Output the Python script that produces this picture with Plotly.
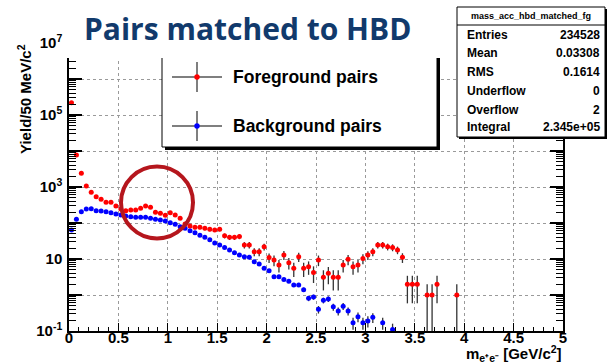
import numpy as np
import plotly.graph_objects as go

# ---------------- data ----------------
fg_mass = [0.025, 0.075, 0.125, 0.175, 0.225, 0.275, 0.325, 0.375, 0.425, 0.475,
           0.525, 0.575, 0.625, 0.675, 0.725, 0.775, 0.825, 0.875, 0.925, 0.975,
           1.025, 1.075, 1.125, 1.175, 1.225, 1.275, 1.325, 1.375, 1.425, 1.475,
           1.525, 1.575, 1.625, 1.675, 1.725, 1.775, 1.825, 1.875, 1.925, 1.975,
           2.025, 2.075, 2.125, 2.175, 2.225, 2.275, 2.325, 2.375, 2.425, 2.475,
           2.525, 2.575, 2.625, 2.675, 2.725, 2.775, 2.825, 2.875, 2.925, 2.975,
           3.025, 3.075, 3.125, 3.175, 3.225, 3.275, 3.325, 3.375,
           3.425, 3.475, 3.525, 3.625, 3.675, 3.725, 3.925]
fg_yield = [220000, 7700, 2400, 1070, 710, 540, 455, 375, 375, 297,
            245, 220, 230, 230, 256, 297, 272, 198, 186, 163,
            193, 167, 135, 94, 83, 76, 76, 71, 67, 64,
            67, 44, 40, 40, 42, 24.5, 24.5, 16, 16, 22,
            11, 9.4, 6.8, 13, 7.9, 5.5, 11.6, 5.5, 6.1, 4.2,
            9.4, 3.1, 4.0, 3.1, 3.1, 6.8, 9.8, 6.1, 6.8, 10.4,
            12.9, 16, 24.5, 24.5, 22, 21, 17.8, 11.1,
            2, 2, 2, 1, 1, 2, 1]

bg_mass = [0.025, 0.075, 0.125, 0.175, 0.225, 0.275, 0.325, 0.375, 0.425, 0.475,
           0.525, 0.575, 0.625, 0.675, 0.725, 0.775, 0.825, 0.875, 0.925, 0.975,
           1.025, 1.075, 1.125, 1.175, 1.225, 1.275, 1.325, 1.375, 1.425, 1.475,
           1.525, 1.575, 1.625, 1.675, 1.725, 1.775, 1.825, 1.875, 1.925, 1.975,
           2.025, 2.075, 2.125, 2.175, 2.225, 2.275, 2.325, 2.375, 2.425, 2.475,
           2.525, 2.575, 2.625, 2.675, 2.725, 2.775, 2.825, 2.875, 2.925, 2.975,
           3.025, 3.075, 3.175, 3.275]
bg_yield = [64, 127, 206, 245, 250, 220, 215, 206, 194, 178,
            167, 156, 150, 144, 144, 144, 135, 127, 121, 114,
            102, 92, 79, 71, 61, 54, 46, 40, 34, 28,
            24.5, 21, 17.8, 15, 12.9, 11.5, 11.1, 8.4, 7.3, 5.5,
            4.7, 3.2, 3.2, 2.7, 2.4, 1.9, 1.9, 1.4, 0.81, 0.88,
            0.40, 0.71, 0.77, 0.47, 0.36, 0.49, 0.36, 0.17, 0.25, 0.17,
            0.19, 0.24, 0.17, 0.11]

x_tickvals = [0, 0.5, 1, 1.5, 2, 2.5, 3, 3.5, 4, 4.5, 5]
x_ticktext = ["0", "0.5", "1", "1.5", "2", "2.5", "3", "3.5", "4", "4.5", "5"]
y_tickvals = [1e-1, 1, 1e1, 1e2, 1e3, 1e4, 1e5, 1e6, 1e7]
y_ticktext = ["10<sup>-1</sup>", "", "10", "", "10<sup>3</sup>", "", "10<sup>5</sup>", "", "10<sup>7</sup>"]

stats_title = "mass_acc_hbd_matched_fg"
stats_labels = ["Entries", "Mean", "RMS", "Underflow", "Overflow", "Integral"]
stats_values = ["234528", "0.03308", "0.1614", "0", "2", "2.345e+05"]
legend_labels = ["Foreground pairs", "Background pairs"]

# ---------------- layout geometry (pixels) ----------------
W, H = 608, 364
L, R, T, B = 69, 563, 43, 331
PW, PH = R - L, B - T


def px(x):
    return (x - L) / PW


def py(y):
    return (B - y) / PH


FONT = "Liberation Sans, Arial, Helvetica, sans-serif"
fg_err = [np.sqrt(v) for v in fg_yield]
bg_err = [0.15 * np.sqrt(v) for v in bg_yield]

fig = go.Figure()
fig.add_trace(go.Scatter(
    x=bg_mass, y=bg_yield, mode="markers",
    marker=dict(color="#0000ff", size=5),
    error_y=dict(type="data", array=bg_err, color="#333333", thickness=1.3, width=0),
    showlegend=False))
fig.add_trace(go.Scatter(
    x=fg_mass, y=fg_yield, mode="markers",
    marker=dict(color="#ff0000", size=5),
    error_y=dict(type="data", array=fg_err, color="#333333", thickness=1.3, width=0),
    showlegend=False, cliponaxis=False))

minor_y = [k * 10.0 ** n for n in range(-1, 7) for k in range(2, 10)]

fig.update_xaxes(
    range=[0, 5], tickvals=x_tickvals, ticktext=x_ticktext,
    ticks="inside", ticklen=8, tickwidth=1.3, tickcolor="black",
    minor=dict(ticks="inside", ticklen=4, dtick=0.1, tickcolor="black", showgrid=False),
    showline=True, linecolor="black", linewidth=1.5, mirror=True,
    showgrid=True, gridcolor="#9a9a9a", griddash="dot", gridwidth=1,
    zeroline=False, automargin=False, ticklabelstandoff=-8,
    tickfont=dict(family=FONT, size=15, color="black", weight="bold"))
fig.update_yaxes(
    type="log", range=[-1, 7], tickvals=y_tickvals, ticktext=y_ticktext,
    ticks="inside", ticklen=13, tickwidth=1.5, tickcolor="black",
    minor=dict(ticks="inside", ticklen=7, tickvals=minor_y, tickcolor="black",
               tickwidth=1.2, showgrid=False),
    showline=True, linecolor="black", linewidth=1.5, mirror="ticks",
    showgrid=True, gridcolor="#9a9a9a", griddash="dot", gridwidth=1,
    zeroline=False, automargin=False, ticklabelstandoff=2,
    tickfont=dict(family=FONT, size=15, color="black", weight="bold"))

shapes = []
ann = []

# highlight circle
shapes.append(dict(type="circle", xref="paper", yref="paper",
                   x0=px(121), x1=px(193), y0=py(238.5), y1=py(166.5),
                   line=dict(color="#b5161d", width=4), layer="above"))

# legend box (shadow + box)
shapes.append(dict(type="rect", xref="paper", yref="paper",
                   x0=px(165), x1=px(440), y0=py(150), y1=py(40),
                   fillcolor="black", line=dict(width=0), layer="above"))
shapes.append(dict(type="rect", xref="paper", yref="paper",
                   x0=px(162), x1=px(437), y0=py(147), y1=py(37),
                   fillcolor="white", line=dict(color="black", width=1), layer="above"))
for i, (lab, col) in enumerate(zip(legend_labels, ["#ff0000", "#0000ff"])):
    yc = 77 + i * 49
    shapes.append(dict(type="line", xref="paper", yref="paper",
                       x0=px(172), x1=px(222), y0=py(yc), y1=py(yc),
                       line=dict(color="#555555", width=1.5), layer="above"))
    shapes.append(dict(type="line", xref="paper", yref="paper",
                       x0=px(197), x1=px(197), y0=py(yc + 15), y1=py(yc - 15),
                       line=dict(color="#555555", width=1.5), layer="above"))
    shapes.append(dict(type="circle", xref="paper", yref="paper",
                       x0=px(194.3), x1=px(199.7), y0=py(yc + 2.7), y1=py(yc - 2.7),
                       fillcolor=col, line=dict(width=0), layer="above"))
    ann.append(dict(text=lab, xref="paper", yref="paper", x=px(231), y=py(yc),
                    xanchor="left", yanchor="middle", showarrow=False,
                    font=dict(family=FONT, size=17.5, color="black", weight="bold")))

# white cover above the cropped top of the frame
shapes.append(dict(type="rect", xref="paper", yref="paper",
                   x0=px(66), x1=px(612), y0=py(58), y1=py(-5),
                   fillcolor="white", line=dict(width=0), layer="above"))

# stats box
shapes.append(dict(type="rect", xref="paper", yref="paper",
                   x0=px(459), x1=px(607), y0=py(139), y1=py(9),
                   fillcolor="black", line=dict(width=0), layer="above"))
shapes.append(dict(type="rect", xref="paper", yref="paper",
                   x0=px(457), x1=px(605), y0=py(137), y1=py(7),
                   fillcolor="white", line=dict(color="black", width=1), layer="above"))
shapes.append(dict(type="line", xref="paper", yref="paper",
                   x0=px(457), x1=px(605), y0=py(25), y1=py(25),
                   line=dict(color="black", width=1), layer="above"))
ann.append(dict(text=stats_title, xref="paper", yref="paper", x=px(531), y=py(16),
                xanchor="center", yanchor="middle", showarrow=False,
                font=dict(family=FONT, size=9, color="black", weight="bold")))
row_y = [35, 53, 72, 91, 110, 127]
for lab, val, yy in zip(stats_labels, stats_values, row_y):
    ann.append(dict(text=lab, xref="paper", yref="paper", x=px(465), y=py(yy),
                    xanchor="left", yanchor="middle", showarrow=False,
                    font=dict(family=FONT, size=12, color="black", weight="bold")))
    ann.append(dict(text=val, xref="paper", yref="paper", x=px(602), y=py(yy),
                    xanchor="right", yanchor="middle", showarrow=False,
                    font=dict(family=FONT, size=12, color="black", weight="bold")))

# title
ann.append(dict(text="Pairs matched to HBD", xref="paper", yref="paper",
                x=px(247), y=py(28), xanchor="center", yanchor="middle", showarrow=False,
                font=dict(family="Open Sans, Lato, sans-serif", size=30, color="#113a6c", weight="bold")))
# axis titles
ann.append(dict(text="Yield/50 MeV/c<sup>2</sup>", xref="paper", yref="paper",
                x=px(24), y=py(99), xanchor="center", yanchor="middle", showarrow=False,
                textangle=-90,
                font=dict(family=FONT, size=15, color="black", weight="bold")))
ann.append(dict(text="m<sub>e⁺e⁻</sub> [GeV/c<sup>2</sup>]", xref="paper", yref="paper",
                x=px(564), y=py(353), xanchor="right", yanchor="middle", showarrow=False,
                font=dict(family=FONT, size=15, color="black", weight="bold")))

fig.update_layout(
    width=W, height=H,
    margin=dict(l=L, r=W - R, t=T, b=H - B, pad=0),
    paper_bgcolor="white", plot_bgcolor="white",
    showlegend=False, shapes=shapes, annotations=ann)

fig.write_html("out.html")
